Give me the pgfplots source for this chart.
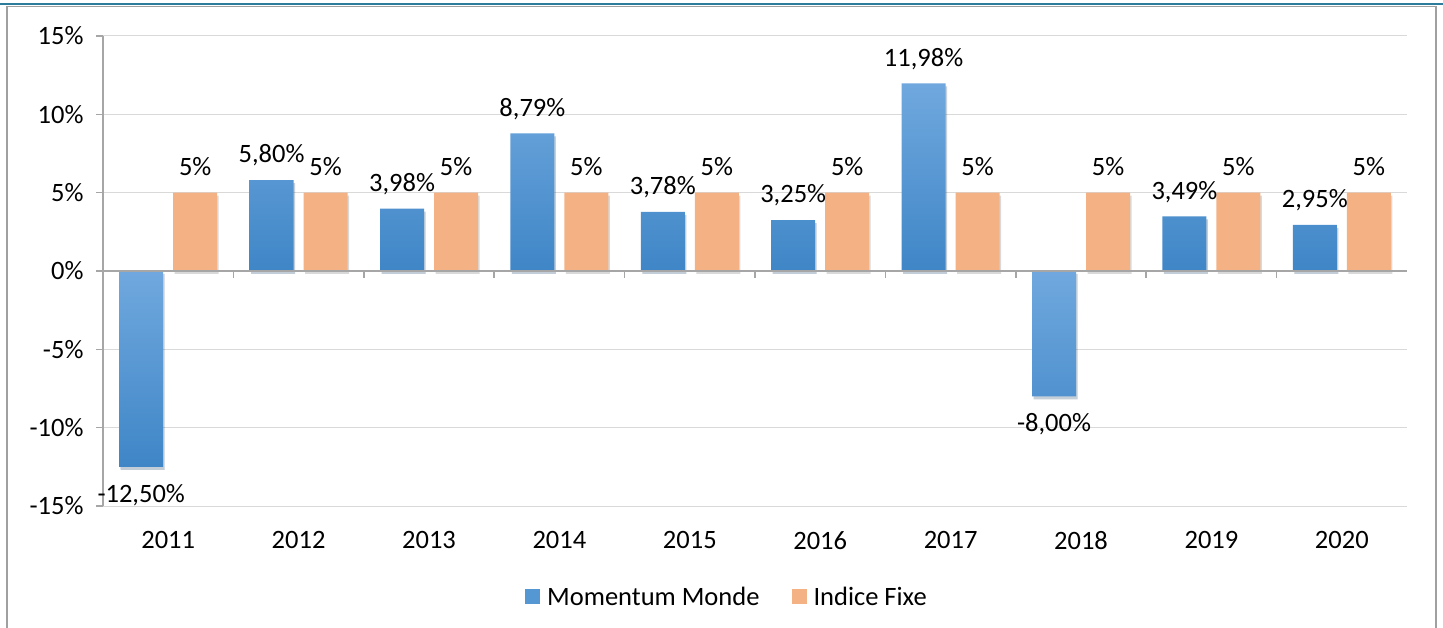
\documentclass[border=0pt]{standalone}
\usepackage{pgfplots}
\pgfplotsset{compat=1.18}
\usepackage{fontspec}
\setmainfont{Carlito}
\usetikzlibrary{shadows}
\definecolor{bluetop}{HTML}{70A8DE}
\definecolor{bluebot}{HTML}{3F86C7}
\definecolor{bluemid}{HTML}{5597D3}
\definecolor{orangec}{HTML}{F4B183}
\definecolor{gridc}{HTML}{D9D9D9}
\definecolor{axisc}{HTML}{A6A6A6}
\definecolor{framec}{HTML}{A0A0A0}
\definecolor{tealc}{HTML}{2E7C9C}

% Momentum Monde, positive years
\pgfplotstableread{
x y label
1 5.80 5,80
2 3.98 3,98
3 8.79 8,79
4 3.78 3,78
5 3.25 3,25
6 11.98 11,98
8 3.49 3,49
9 2.95 2,95
}\momentumpos

% Momentum Monde, negative years
\pgfplotstableread{
x y label
0 -12.50 -12,50
7 -8.00 -8,00
}\momentumneg

% Indice Fixe
\pgfplotstableread{
x y label
0 5 5
1 5 5
2 5 5
3 5 5
4 5 5
5 5 5
6 5 5
7 5 5
8 5 5
9 5 5
}\fixe

\begin{document}
\begin{tikzpicture}[font=\fontsize{26.5}{31}\selectfont]
\path[use as bounding box] (0,0) rectangle (1443pt,627pt);
\begin{axis}[
  at={(103pt,121pt)}, anchor=south west,
  scale only axis, width=1304pt, height=470pt,
  xmin=-0.5, xmax=9.5, ymin=-15, ymax=15,
  ybar, bar width=44pt,
  axis y line*=left, axis x line*=bottom,
  x axis line style={draw=none},
  y axis line style={draw=axisc, line width=1.5pt},
  xtick={0,...,9},
  xticklabels={2011,2012,2013,2014,2015,2016,2017,2018,2019,2020},
  xtick style={draw=none},
  ytick={-15,-10,-5,0,5,10,15},
  yticklabels={-15\%,-10\%,-5\%,0\%,5\%,10\%,15\%},
  ytick style={draw=axisc, line width=1.5pt},
  tick align=outside, major tick length=7pt,
  ymajorgrids, grid style={gridc, line width=1pt},
  xticklabel style={yshift=-15pt},
  yticklabel style={xshift=-9pt},
  nodes near coords={\pgfplotspointmeta\%},
  point meta=explicit symbolic,
  legend columns=2,
  legend style={at={(0.4785,-0.1936)}, anchor=center, draw=none, fill=none,
    /tikz/every even column/.append style={column sep=30pt}},
  shad/.style={drop shadow={shadow xshift=1.5pt, shadow yshift=-3pt, fill=black, opacity=0.15}},
  blueplot/.style={draw=none, top color=bluetop, bottom color=bluebot, bar shift=-27pt, shad,
    legend image code/.code={\pgfsetfillcolor{bluemid}\pgfpathrectangle{\pgfpoint{0pt}{-7.5pt}}{\pgfpoint{15pt}{15pt}}\pgfusepath{fill}\pgfpathrectangle{\pgfpoint{15pt}{0pt}}{\pgfpoint{5pt}{0pt}}\pgfusepath{}}},
]
\addplot[blueplot,
  every node near coord/.append style={black, inner xsep=2pt, inner ysep=17pt,
     text depth=0pt, anchor=south}]
  table[x=x, y=y, meta=label] {\momentumpos};
\addlegendentry{Momentum Monde}
\addplot[blueplot, forget plot,
  every node near coord/.append style={black, inner xsep=2pt, inner ysep=17pt,
     text depth=0pt, anchor=north}]
  table[x=x, y=y, meta=label] {\momentumneg};
\addplot[draw=none, fill=orangec, bar shift=27pt, shad,
  every node near coord/.append style={black, inner xsep=2pt, inner ysep=17pt,
     text depth=0pt, anchor=south},
  legend image code/.code={\pgfsetfillcolor{orangec}\pgfpathrectangle{\pgfpoint{0pt}{-7.5pt}}{\pgfpoint{15pt}{15pt}}\pgfusepath{fill}\pgfpathrectangle{\pgfpoint{15pt}{0pt}}{\pgfpoint{5pt}{0pt}}\pgfusepath{}}]
  table[x=x, y=y, meta=label] {\fixe};
\addlegendentry{Indice Fixe}
\end{axis}
\draw[axisc, line width=1.5pt] (103pt,356pt) -- (1407pt,356pt);
\foreach \k in {1,...,9} \draw[axisc, line width=1.5pt] ({103pt+130.4pt*\k},356pt) -- ++(0,-7pt);
\draw[framec, line width=1.5pt] (7pt,-5pt) -- (7pt,620.5pt) -- (1436pt,620.5pt) -- (1436pt,-5pt);
\draw[tealc, line width=2.5pt] (0,623pt) -- (1443pt,623pt);
\end{tikzpicture}
\end{document}
